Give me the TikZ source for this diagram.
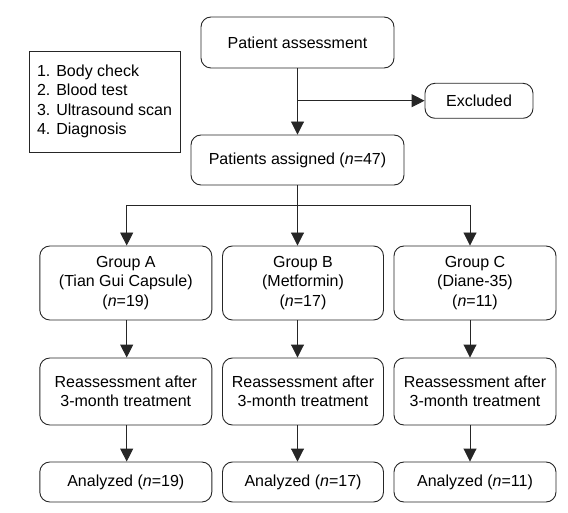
\documentclass[tikz,border=0pt]{standalone}
\usepackage{fontspec}
\setmainfont{Liberation Sans}
\usetikzlibrary{arrows.meta}
\tikzset{
  box/.style={draw=black!85, line width=0.9pt, rounded corners=10pt, align=center, inner sep=0pt, font=\fontsize{16}{19.3}\selectfont},
  plainbox/.style={draw=black!85, line width=0.9pt, align=left, inner sep=0pt, font=\fontsize{16}{19.3}\selectfont},
  conn/.style={draw=black!85, line width=0.9pt},
  arr/.style={conn, -{Triangle[length=13pt,width=13pt]}}
}
\begin{document}
\begin{tikzpicture}[x=1pt,y=-1pt]
\useasboundingbox (0,0) rectangle (568,513);
\node[plainbox, minimum width=151pt, minimum height=101pt] (legend) at (104.5,101.5) {1. Body check\\2. Blood test\\3. Ultrasound scan\\4. Diagnosis};
\node[box, minimum width=193pt, minimum height=51pt] (assess) at (297.5,42.5) {Patient assessment};
\node[box, minimum width=108pt, minimum height=35pt] (excl) at (479,100.8) {Excluded};
\node[box, minimum width=213pt, minimum height=50pt] (assigned) at (297.5,160) {Patients assigned (\textit{n}=47)};
\node[box, minimum width=172pt, minimum height=74pt] (gA) at (125.8,283) {Group A\\(Tian Gui Capsule)\\(\textit{n}=19)};
\node[box, minimum width=161pt, minimum height=74pt] (gB) at (303,283) {Group B\\(Metformin)\\(\textit{n}=17)};
\node[box, minimum width=162pt, minimum height=74pt] (gC) at (475,283) {Group C\\(Diane-35)\\(\textit{n}=11)};
\node[box, minimum width=172pt, minimum height=67pt] (rA) at (125.8,391.5) {Reassessment after\\3-month treatment};
\node[box, minimum width=161pt, minimum height=67pt] (rB) at (303,391.5) {Reassessment after\\3-month treatment};
\node[box, minimum width=162pt, minimum height=67pt] (rC) at (475,391.5) {Reassessment after\\3-month treatment};
\node[box, minimum width=172pt, minimum height=40pt] (aA) at (125.8,482) {Analyzed (\textit{n}=19)};
\node[box, minimum width=161pt, minimum height=40pt] (aB) at (303,482) {Analyzed (\textit{n}=17)};
\node[box, minimum width=162pt, minimum height=40pt] (aC) at (475,482) {Analyzed (\textit{n}=11)};
\coordinate (br) at (297.5,100.7);
\coordinate (split) at (297.5,205);
\coordinate (sA) at (126.7,205);
\coordinate (sB) at (297.5,205);
\coordinate (sC) at (470,205);
\draw[arr] (assess.south) -- (assigned.north);
\draw[arr] (br) -- (br -| excl.west);
\draw[conn] (assigned.south) -- (split);
\draw[conn] (sA) -- (sC);
\draw[arr] (sA) -- (sA |- gA.north);
\draw[arr] (sB) -- (sB |- gB.north);
\draw[arr] (sC) -- (sC |- gC.north);
\draw[arr] (sA |- gA.south) -- (sA |- rA.north);
\draw[arr] (sB |- gB.south) -- (sB |- rB.north);
\draw[arr] (sC |- gC.south) -- (sC |- rC.north);
\draw[arr] (sA |- rA.south) -- (sA |- aA.north);
\draw[arr] (sB |- rB.south) -- (sB |- aB.north);
\draw[arr] (sC |- rC.south) -- (sC |- aC.north);
\end{tikzpicture}
\end{document}
